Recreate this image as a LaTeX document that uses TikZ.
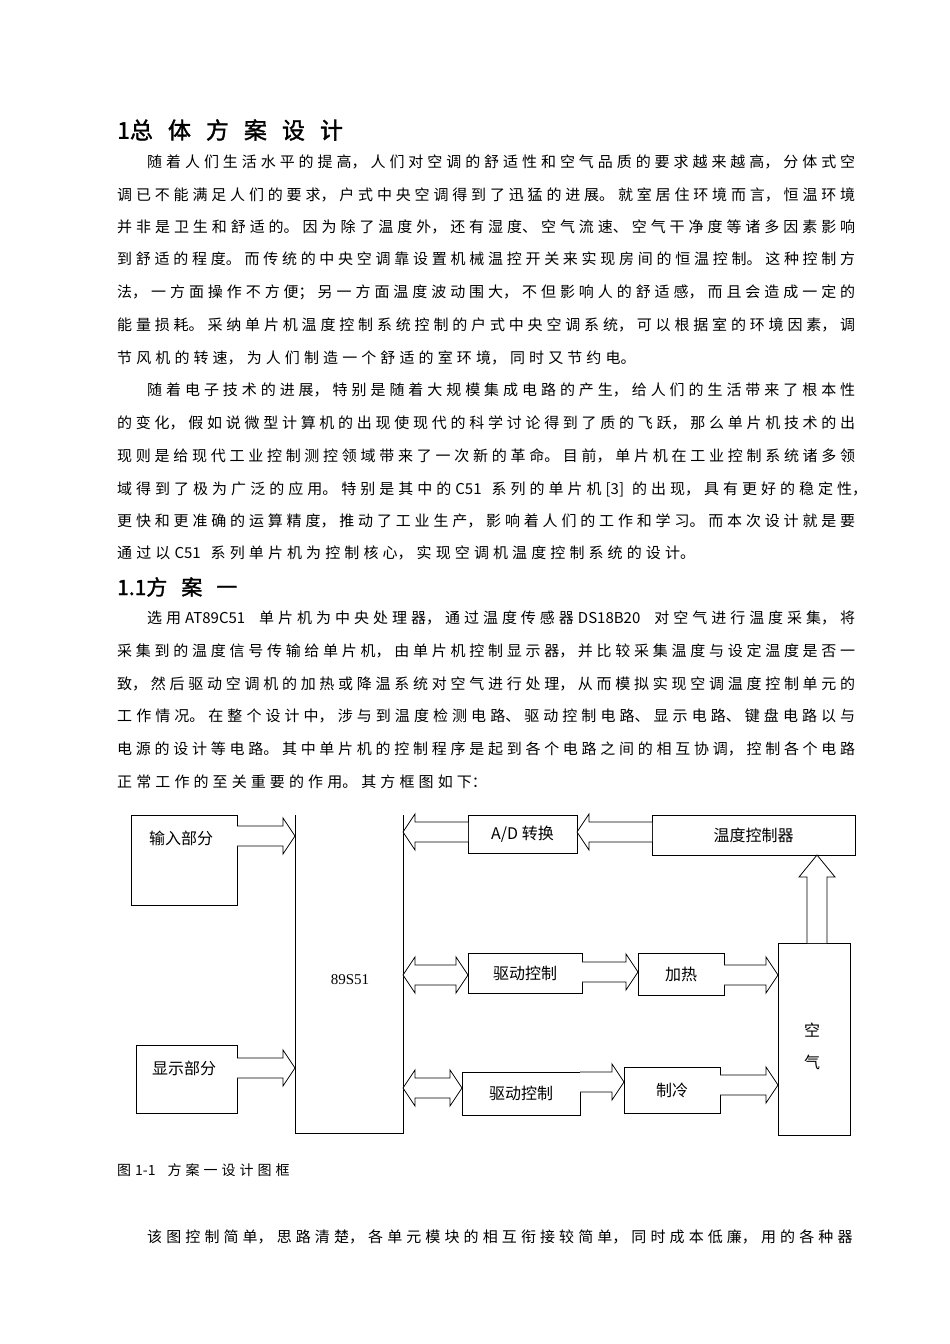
\documentclass[tikz,border=0pt]{standalone}
\usepackage{fontspec}
\setmainfont{Noto Sans CJK SC}
\newfontfamily\lat{Liberation Serif}
\XeTeXlinebreaklocale "zh"
\XeTeXlinebreakskip=0pt plus 1fil
\newcommand{\jl}[3]{\node[anchor=west,inner sep=0pt] at (#1,#2) {\parbox{\dimexpr(855pt-#1pt)\relax}{\parindent=0pt\parfillskip=0pt\XeTeXlinebreakskip=3.6pt plus 1fil #3}};}
\newcommand{\nl}[3]{\node[anchor=west,inner sep=0pt] at (#1,#2) {\parbox{800pt}{\parindent=0pt\XeTeXlinebreakskip=4.1pt #3}};}
\newcommand{\rarr}[3]{\draw[arr] (#1,#3-10) -- (#2-12,#3-10) -- (#2-12,#3-18) -- (#2,#3) -- (#2-12,#3+18) -- (#2-12,#3+10) -- (#1,#3+10);}
\newcommand{\larr}[3]{\draw[arr] (#1,#3-10) -- (#2+12,#3-10) -- (#2+12,#3-18) -- (#2,#3) -- (#2+12,#3+18) -- (#2+12,#3+10) -- (#1,#3+10);}
\newcommand{\darr}[3]{\draw[arr] (#1+12,#3-10) -- (#2-12,#3-10) -- (#2-12,#3-18) -- (#2,#3) -- (#2-12,#3+18) -- (#2-12,#3+10) -- (#1+12,#3+10) -- (#1+12,#3+18) -- (#1,#3) -- (#1+12,#3-18) -- cycle;}
\begin{document}
\begin{tikzpicture}[x=1pt,y=-1pt,
  box/.style={draw,line width=0.9pt,inner sep=0pt,font=\fontsize{16pt}{18pt}\selectfont},
  arr/.style={draw,line width=0.8pt,fill=white}]
\useasboundingbox (0,0) rectangle (950,1344);
\fill[white] (0,0) rectangle (950,1344);
\begin{scope}[every node/.style={font=\fontsize{15pt}{17pt}\selectfont}]
\node[anchor=west,inner sep=0pt,font=\fontsize{23pt}{25pt}\selectfont\addfontfeature{FakeBold=1.5}] (h1) at (117,130) {1总\hskip15pt 体\hskip15pt 方\hskip15pt 案\hskip15pt 设\hskip15pt 计};
\jl{147}{162}{随着人们生活水平的提高，人们对空调的舒适性和空气品质的要求越来越高，分体式空}
\jl{117}{195}{调已不能满足人们的要求，户式中央空调得到了迅猛的进展。就室居住环境而言，恒温环境}
\jl{117}{227}{并非是卫生和舒适的。因为除了温度外，还有湿度、空气流速、空气干净度等诸多因素影响}
\jl{117}{259}{到舒适的程度。而传统的中央空调靠设置机械温控开关来实现房间的恒温控制。这种控制方}
\jl{117}{292}{法，一方面操作不方便；另一方面温度波动围大，不但影响人的舒适感，而且会造成一定的}
\jl{117}{325}{能量损耗。采纳单片机温度控制系统控制的户式中央空调系统，可以根据室的环境因素，调}
\nl{117}{358}{节风机的转速，为人们制造一个舒适的室环境，同时又节约电。}
\jl{147}{390}{随着电子技术的进展，特别是随着大规模集成电路的产生，给人们的生活带来了根本性}
\jl{117}{423}{的变化，假如说微型计算机的出现使现代的科学讨论得到了质的飞跃，那么单片机技术的出}
\jl{117}{456}{现则是给现代工业控制测控领域带来了一次新的革命。目前，单片机在工业控制系统诸多领}
\node[anchor=west,inner sep=0pt] at (117,489) {\parbox{750pt}{\parindent=0pt\parfillskip=0pt\XeTeXlinebreakskip=3pt plus 1fil 域得到了极为广泛的应用。特别是其中的C51\hskip10pt 系列的单片机[3]\hskip8pt 的出现，具有更好的稳定性，}};
\jl{117}{521}{更快和更准确的运算精度，推动了工业生产，影响着人们的工作和学习。而本次设计就是要}
\nl{117}{553}{通过以C51\hskip10pt 系列单片机为控制核心，实现空调机温度控制系统的设计。}
\node[anchor=west,inner sep=0pt,font=\fontsize{21pt}{23pt}\selectfont\addfontfeature{FakeBold=1.5}] (h2) at (117,587) {1.1方\hskip14pt 案\hskip14pt 一};
\jl{147}{618}{选用AT89C51\hskip14pt 单片机为中央处理器，通过温度传感器DS18B20\hskip14pt 对空气进行温度采集，将}
\jl{117}{651}{采集到的温度信号传输给单片机，由单片机控制显示器，并比较采集温度与设定温度是否一}
\jl{117}{684}{致，然后驱动空调机的加热或降温系统对空气进行处理，从而模拟实现空调温度控制单元的}
\jl{117}{716}{工作情况。在整个设计中，涉与到温度检测电路、驱动控制电路、显示电路、键盘电路以与}
\jl{117}{749}{电源的设计等电路。其中单片机的控制程序是起到各个电路之间的相互协调，控制各个电路}
\nl{117}{782}{正常工作的至关重要的作用。其方框图如下：}
\node[anchor=west,inner sep=0pt,font=\fontsize{14pt}{16pt}\selectfont] (cap) at (117,1170) {\parbox{400pt}{\parindent=0pt\XeTeXlinebreakskip=4pt 图1-1\hskip12pt 方案一设计图框}};
\nl{147}{1237}{该图控制简单，思路清楚，各单元模块的相互衔接较简单，同时成本低廉，用的各种器}
\end{scope}
% diagram
\draw[line width=0.9pt] (131,905) rectangle (237,815);
\node[font=\fontsize{16pt}{18pt}\selectfont] (in) at (181,838) {输入部分};
\draw[line width=0.9pt] (136,1113) rectangle (237,1045);
\node[font=\fontsize{16pt}{18pt}\selectfont] (disp) at (184,1068) {显示部分};
\draw[line width=0.9pt] (295,815) -- (295,1133) -- (403,1133) -- (403,815);
\node[font=\lat\fontsize{15pt}{17pt}\selectfont] (mcu) at (350,980) {89S51};
\node[box,minimum width=109pt,minimum height=38pt] (ad) at (522.5,834) {A/D 转换};
\node[box,minimum width=203pt,minimum height=40pt] (tc) at (753.5,835) {温度控制器};
\node[box,minimum width=114pt,minimum height=40pt] (d1) at (525,973) {驱动控制};
\node[box,minimum width=86pt,minimum height=42pt] (heat) at (681,974) {加热};
\node[box,minimum width=118pt,minimum height=43pt] (d2) at (521,1093.5) {驱动控制};
\node[box,minimum width=96pt,minimum height=46pt] (cool) at (672,1090) {制冷};
\node[box,minimum width=72pt,minimum height=192pt] (air) at (814,1039) {};
\node[font=\fontsize{16pt}{18pt}\selectfont] (k1) at (812,1030) {空};
\node[font=\fontsize{16pt}{18pt}\selectfont] (k2) at (812,1062) {气};
\rarr{237}{295}{836}
\rarr{237}{295}{1068}
\larr{468}{403}{832}
\larr{652}{577}{832}
\darr{403}{468}{975}
\darr{403}{462}{1088}
\rarr{582}{638}{972}
\rarr{724}{778}{975}
\rarr{580}{624}{1082}
\rarr{720}{778}{1085}
\draw[arr] (807,943) -- (807,877) -- (799,877) -- (817,855) -- (835,877) -- (827,877) -- (827,943);
\end{tikzpicture}
\end{document}
